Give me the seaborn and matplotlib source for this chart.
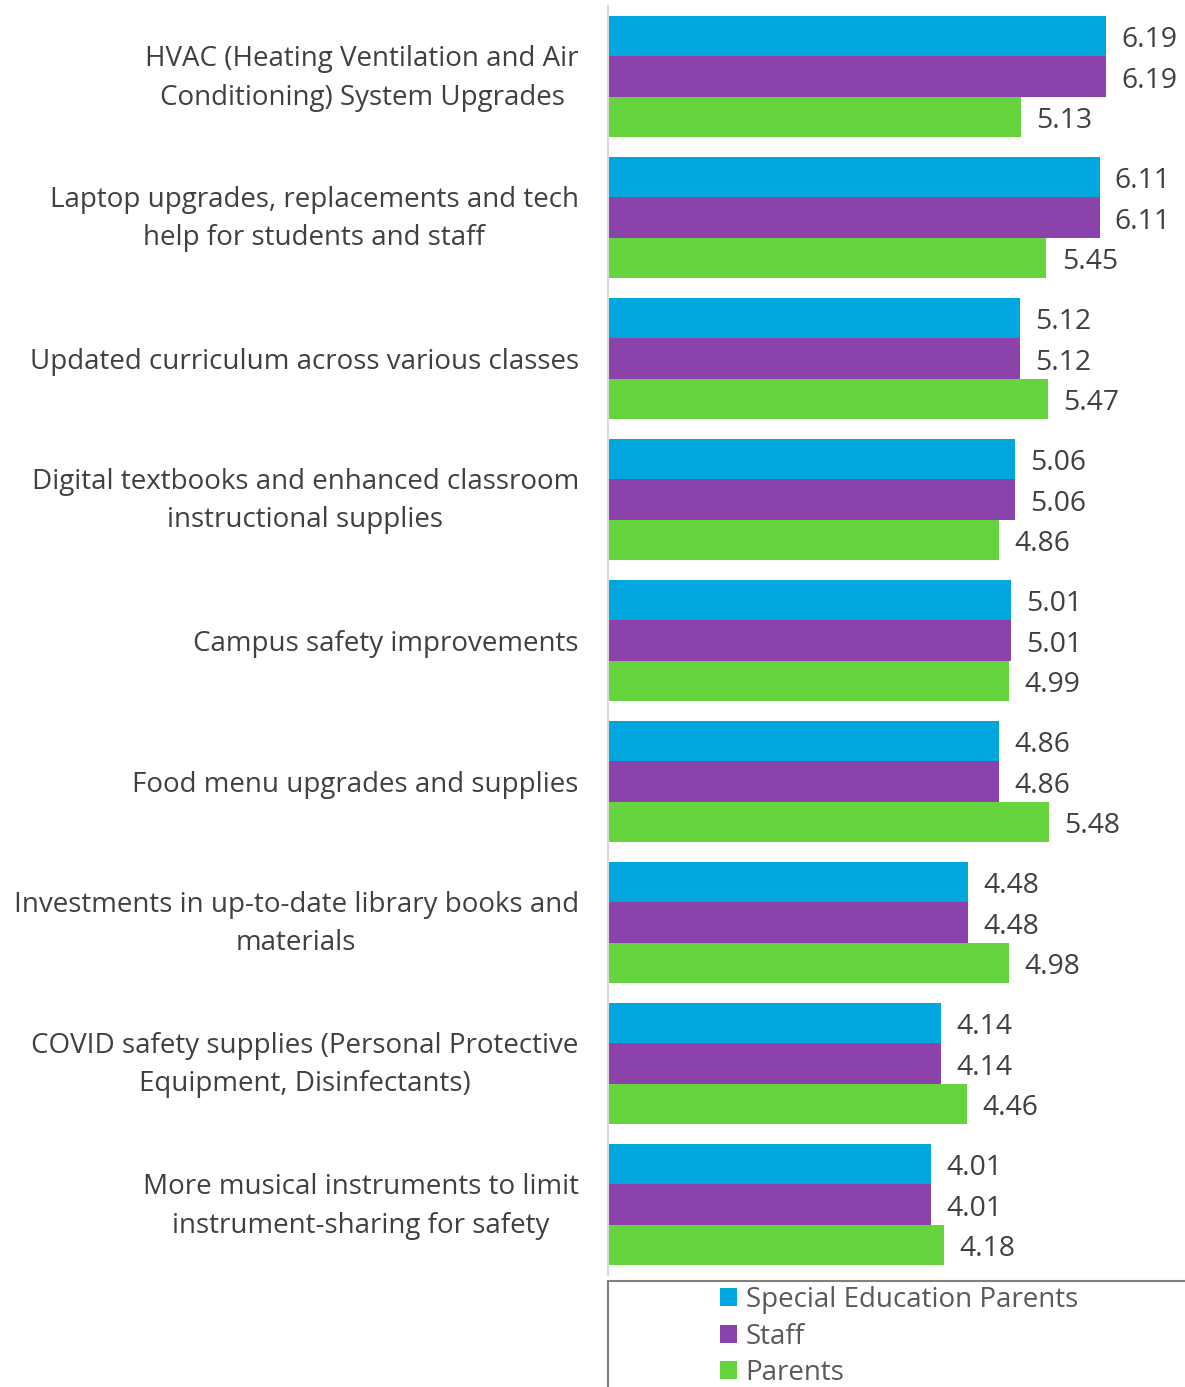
import matplotlib
matplotlib.use("Agg")
import matplotlib.pyplot as plt
import matplotlib.transforms as mtransforms
import seaborn as sns
import pandas as pd
from matplotlib.patches import Rectangle, Patch

categories = [
    "HVAC (Heating Ventilation and Air\nConditioning) System Upgrades",
    "Laptop upgrades, replacements and tech\nhelp for students and staff",
    "Updated curriculum across various classes",
    "Digital textbooks and enhanced classroom\ninstructional supplies",
    "Campus safety improvements",
    "Food menu upgrades and supplies",
    "Investments in up-to-date library books and\nmaterials",
    "COVID safety supplies (Personal Protective\nEquipment, Disinfectants)",
    "More musical instruments to limit\ninstrument-sharing for safety",
]
series_names = ["Special Education Parents", "Staff", "Parents"]
sped_parents = [6.19, 6.11, 5.12, 5.06, 5.01, 4.86, 4.48, 4.14, 4.01]
staff = [6.19, 6.11, 5.12, 5.06, 5.01, 4.86, 4.48, 4.14, 4.01]
parents = [5.13, 5.45, 5.47, 4.86, 4.99, 5.48, 4.98, 4.46, 4.18]
colors = ["#00A6DE", "#8B42AB", "#66D43F"]

rows = []
for s, vals in zip(series_names, [sped_parents, staff, parents]):
    for c, v in zip(categories, vals):
        rows.append({"category": c, "series": s, "value": v})
df = pd.DataFrame(rows)

sns.set_theme(style="white")
plt.rcParams['font.family'] = ['Open Sans', 'DejaVu Sans']

W, H = 1185, 1387
fig = plt.figure(figsize=(W / 100, H / 100), dpi=100)
ax = fig.add_axes([608 / W, 1 - 1275 / H, (W - 608) / W, (1275 - 6) / H])

sns.barplot(data=df, y="category", x="value", hue="series", order=categories,
            hue_order=series_names, palette=colors, orient="h", width=0.862,
            gap=0, saturation=1, ax=ax, legend=False, linewidth=0)

for cont in ax.containers:
    texts = ax.bar_label(cont, fmt="%.2f", padding=11, fontsize=20.3, color="#404040")
    for t in texts:
        t.xyann = (11, -3)

ax.set_xlim(0, (W - 608) / 80.45)
ax.set_ylim(8.5, -0.5)
ax.set_xlabel("")
ax.set_ylabel("")
ax.set_xticks([])
ax.tick_params(axis="y", length=0, pad=21, labelsize=20, labelcolor="#404040")
up = mtransforms.ScaledTranslation(0, 7 / 100, fig.dpi_scale_trans)
for lab in ax.get_yticklabels():
    lab.set_multialignment("center")
    lab.set_linespacing(1.5)
    if "\n" in lab.get_text():
        lab.set_transform(lab.get_transform() + up)
for side in ["top", "right", "bottom"]:
    ax.spines[side].set_visible(False)
ax.spines["left"].set_color("#D9D9D9")
ax.spines["left"].set_linewidth(1.5)

# legend frame
fig.patches.append(Rectangle((608 / W, -0.01), 1.0, (1387 - 1281) / H + 0.01,
                             transform=fig.transFigure, facecolor="none",
                             edgecolor="#808080", linewidth=1.5))
handles = [Patch(facecolor=c, edgecolor="none") for c in colors]
fig.legend(handles, series_names, loc="upper left",
           bbox_to_anchor=(720 / W, 1 - 1286 / H), frameon=False,
           fontsize=20, labelcolor="#595959", handlelength=0.62,
           handleheight=0.62, handletextpad=0.3, labelspacing=0.31,
           borderaxespad=0, borderpad=0)

fig.savefig("out.png", dpi=100)
